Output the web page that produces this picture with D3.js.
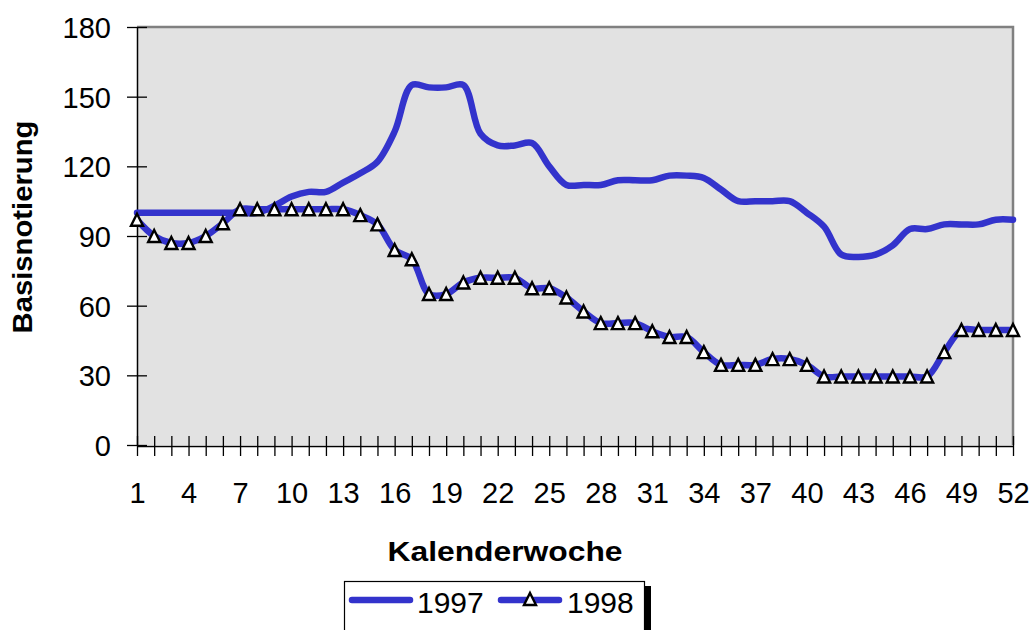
<!DOCTYPE html>
<html lang="de">
<head>
<meta charset="UTF-8">
<title>Basisnotierung 1997 / 1998</title>
<script src="https://d3js.org/d3.v7.min.js"></script>
<style>
    body { margin: 0; background: #fff; }
    text { font-family: "Liberation Sans", Arial, sans-serif; fill: #000; }
</style>
</head>
<body>
<div id="chart"></div>
<script>
// weekly values
const weeks = d3.range(1, 53);
const series1997 = [100, 100, 100, 100, 100, 100, 100, 100, 103, 107, 109, 109, 113, 117, 122, 135,
    155, 154, 154, 155, 134, 129, 129, 130, 120, 112, 112, 112, 114, 114, 114, 116, 116, 115, 110,
    105, 105, 105, 105, 100, 94, 82, 81, 82, 86, 93, 93, 95, 95, 95, 97, 97];
const series1998 = [97, 90, 87, 87, 90, 95.5, 101.5, 101.5, 101.5, 101.5, 101.5, 101.5, 101.5, 99, 95,
    84, 80, 65, 65, 70, 72, 72, 72, 67.5, 67.5, 63.5, 57.5, 52.5, 52.5, 52.5, 49, 46.5, 46.5, 40,
    34.5, 34.5, 34.5, 37, 37, 34.5, 29.5, 29.5, 29.5, 29.5, 29.5, 29.5, 29.5, 40, 49.5, 49.5, 49.5, 49.5];
const xLabels = [1, 4, 7, 10, 13, 16, 19, 22, 25, 28, 31, 34, 37, 40, 43, 46, 49, 52];
const yTicks = [0, 30, 60, 90, 120, 150, 180];
const seriesNames = ["1997", "1998"];

const width = 1033, height = 630;
const plotLeft = 137, plotRight = 1013, plotTop = 27, plotBottom = 445;
const blue = "#3333cc";

const svg = d3.select("#chart").append("svg")
    .attr("width", width)
    .attr("height", height);

const x = d3.scaleLinear().domain([1, 52]).range([plotLeft, plotRight]);
const y = d3.scaleLinear().domain([0, 180]).range([plotBottom, plotTop]);

// plot area
svg.append("rect")
    .attr("x", plotLeft).attr("y", plotTop)
    .attr("width", plotRight - plotLeft).attr("height", plotBottom - plotTop)
    .attr("fill", "#e2e2e2");
svg.append("path")
    .attr("d", `M${plotLeft},${plotTop}H${plotRight}V${plotBottom}`)
    .attr("fill", "none")
    .attr("stroke", "#808080")
    .attr("stroke-width", 2.5);

// y axis
const yAxis = svg.append("g")
    .attr("transform", `translate(${plotLeft},0)`)
    .call(d3.axisLeft(y).tickValues(yTicks).tickSizeOuter(0));
yAxis.select(".domain").attr("stroke", "#000").attr("stroke-width", 1.5);
yAxis.selectAll(".tick line").attr("x1", -10).attr("x2", 10).attr("stroke-width", 1.3);
yAxis.selectAll(".tick text")
    .attr("x", -26).attr("dy", "0.36em")
    .attr("font-size", 29)
    .attr("font-family", "Liberation Sans, Arial, sans-serif");

// x axis
const xAxis = svg.append("g")
    .attr("transform", `translate(0,${plotBottom + 1})`)
    .call(d3.axisBottom(x).tickValues(weeks).tickSizeOuter(0)
        .tickFormat(d => xLabels.includes(d) ? d : ""));
xAxis.select(".domain").attr("stroke", "#000").attr("stroke-width", 1.5);
xAxis.selectAll(".tick line").attr("y1", -10).attr("y2", 10).attr("stroke-width", 1.3);
xAxis.selectAll(".tick text")
    .attr("y", 57).attr("dy", 0)
    .attr("font-size", 29)
    .attr("font-family", "Liberation Sans, Arial, sans-serif");

// axis titles
svg.append("text")
    .attr("x", 505).attr("y", 561)
    .attr("text-anchor", "middle")
    .attr("font-size", 27).attr("font-weight", "bold")
    .attr("textLength", 235).attr("lengthAdjust", "spacingAndGlyphs")
    .text("Kalenderwoche");
svg.append("text")
    .attr("transform", "translate(32,227) rotate(-90)")
    .attr("text-anchor", "middle")
    .attr("font-size", 27).attr("font-weight", "bold")
    .attr("textLength", 213).attr("lengthAdjust", "spacingAndGlyphs")
    .text("Basisnotierung");

// lines
const line = d3.line()
    .x((d, i) => x(weeks[i]))
    .y(d => y(d))
    .curve(d3.curveCatmullRom.alpha(0.5));

[series1997, series1998].forEach(s => {
    svg.append("path")
        .datum(s)
        .attr("d", line)
        .attr("fill", "none")
        .attr("stroke", blue)
        .attr("stroke-width", 6.5)
        .attr("stroke-linejoin", "round")
        .attr("stroke-linecap", "round");
});

// triangle markers
const tri = "M0,-6L6,6L-6,6Z";
svg.selectAll(".marker")
    .data(series1998)
    .join("path")
    .attr("class", "marker")
    .attr("d", tri)
    .attr("transform", (d, i) => `translate(${x(weeks[i])},${y(d)})`)
    .attr("fill", "#fff")
    .attr("stroke", "#000")
    .attr("stroke-width", 2.4)
    .attr("stroke-linejoin", "miter");

// legend
const lg = svg.append("g");
lg.append("rect")
    .attr("x", 645).attr("y", 586).attr("width", 6).attr("height", 50)
    .attr("fill", "#000");
lg.append("rect")
    .attr("x", 344.5).attr("y", 581.5).attr("width", 300).attr("height", 50)
    .attr("fill", "#fff").attr("stroke", "#000").attr("stroke-width", 1.2);

const items = [
    { name: seriesNames[0], x1: 352, x2: 410, tx: 417, marker: false },
    { name: seriesNames[1], x1: 501, x2: 559, tx: 567, marker: true }
];
items.forEach(it => {
    lg.append("line")
        .attr("x1", it.x1).attr("x2", it.x2)
        .attr("y1", 600).attr("y2", 600)
        .attr("stroke", blue).attr("stroke-width", 6.5)
        .attr("stroke-linecap", "round");
    if (it.marker) {
        lg.append("path")
            .attr("d", tri)
            .attr("transform", `translate(${(it.x1 + it.x2) / 2},599)`)
            .attr("fill", "#fff").attr("stroke", "#000").attr("stroke-width", 2.4);
    }
    lg.append("text")
        .attr("x", it.tx).attr("y", 613)
        .attr("font-size", 30)
        .text(it.name);
});
</script>
</body>
</html>
